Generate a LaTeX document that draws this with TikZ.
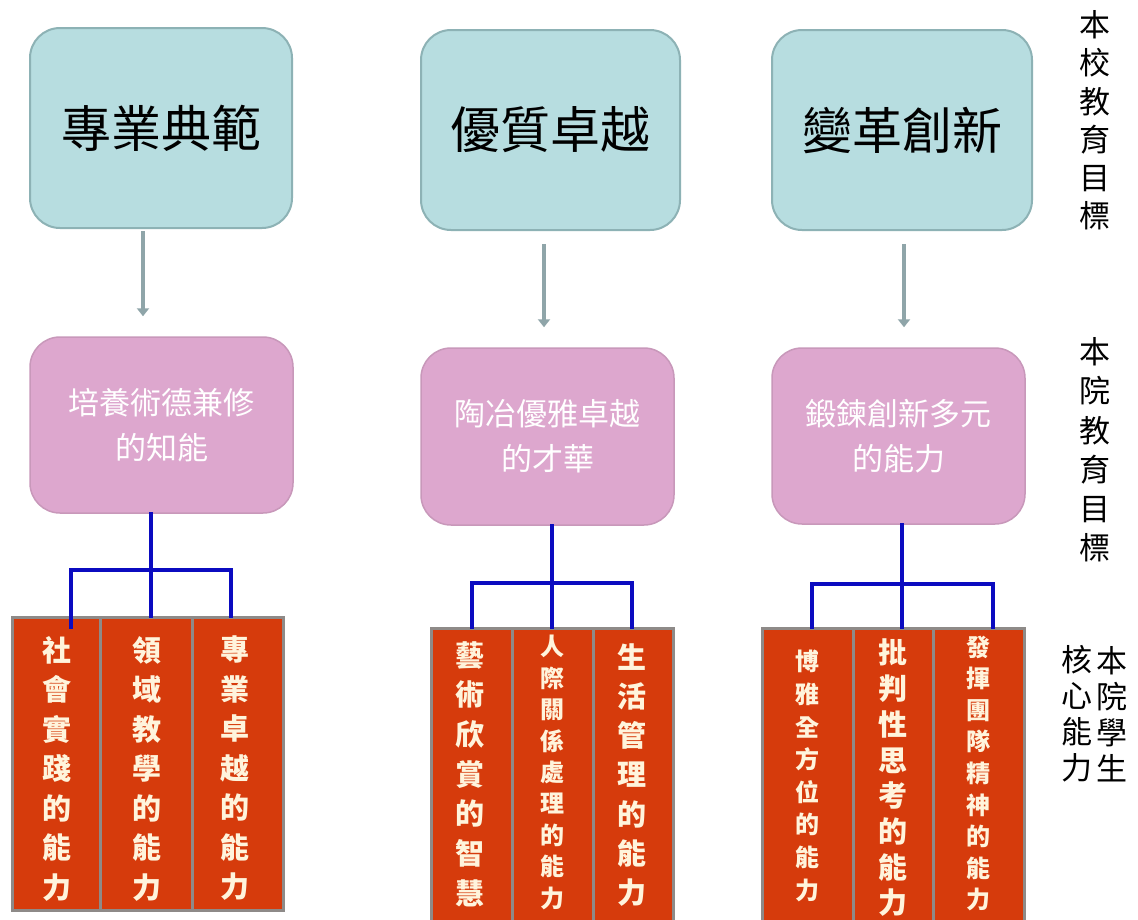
\documentclass[tikz,border=0pt]{standalone}
\usepackage{fontspec}
\newfontfamily\cjk{Noto Sans CJK TC}
\usetikzlibrary{arrows.meta,calc}
\definecolor{topfill}{HTML}{B7DDE0}
\definecolor{topline}{HTML}{8DB2B5}
\definecolor{pinkfill}{HTML}{DDA7CE}
\definecolor{pinkline}{HTML}{C898BA}
\definecolor{redfill}{HTML}{D63B0C}
\definecolor{redline}{HTML}{8E8A88}
\definecolor{cream}{HTML}{FFF4DC}
\definecolor{busblue}{HTML}{0B0BC0}
\definecolor{arrgray}{HTML}{8FA5A9}
\begin{document}
\begin{tikzpicture}[x=1pt,y=-1pt,
  topbox/.style={draw=topline, line width=2pt, fill=topfill, rounded corners=30pt, inner sep=0pt,
    font={\cjk\fontsize{50pt}{60pt}\selectfont}, text=black},
  pinkbox/.style={draw=pinkline, line width=1.5pt, fill=pinkfill, rounded corners=30pt, inner sep=0pt,
    align=center, font={\cjk\fontsize{31pt}{45pt}\selectfont}, text=white},
  redcol/.style={draw=redline, line width=3pt, fill=redfill, inner sep=0pt},
  vtext/.style={align=center, inner sep=0pt, text=cream},
  vbig/.style={vtext, font={\cjk\bfseries\fontsize{29pt}{#1}\selectfont}},
  vsmall/.style={vtext, font={\cjk\bfseries\fontsize{24pt}{#1}\selectfont}},
  sidelabel/.style={align=center, inner sep=0pt, text=black, font={\cjk\fontsize{31pt}{#1}\selectfont}},
  arr/.style={draw=arrgray, line width=4.5pt, -{Triangle[width=12pt,length=8pt]}},
  bus/.style={draw=busblue, line width=4.5pt, line join=miter, line cap=rect}
]
\useasboundingbox (0,0) rectangle (1138,919);
\clip (0,0) rectangle (1138,919);
\fill[white] (0,0) rectangle (1138,919);

% top boxes
\node[topbox, minimum width=262pt, minimum height=200pt] (t1) at (161,128) {專業典範};
\node[topbox, minimum width=259pt, minimum height=200pt] (t2) at (550.5,130) {優質卓越};
\node[topbox, minimum width=260pt, minimum height=200pt] (t3) at (902,130) {變革創新};

% pink boxes
\node[pinkbox, minimum width=263pt, minimum height=176pt] (p1) at (161.5,425) {培養術德兼修\\的知能};
\node[pinkbox, minimum width=253pt, minimum height=177pt] (p2) at (547.5,436.5) {陶冶優雅卓越\\的才華};
\node[pinkbox, minimum width=253pt, minimum height=176pt] (p3) at (898.5,436) {鍛鍊創新多元\\的能力};

% arrows
\coordinate (a1) at (143,0);
\coordinate (a2) at (544,0);
\coordinate (a3) at (904,0);
\draw[arr, shorten <=2pt, shorten >=20pt] (a1 |- t1.south) -- (a1 |- p1.north);
\draw[arr, shorten <=13pt, shorten >=20pt] (a2 |- t2.south) -- (a2 |- p2.north);
\draw[arr, shorten <=13pt, shorten >=20pt] (a3 |- t3.south) -- (a3 |- p3.north);

% red columns group 1
\node[redcol, minimum width=88pt, minimum height=293pt] (c11) at (56,763.5) {};
\node[redcol, minimum width=92pt, minimum height=293pt] (c12) at (146,763.5) {};
\node[redcol, minimum width=91pt, minimum height=293pt] (c13) at (237.5,763.5) {};
% group 2
\node[redcol, minimum width=81pt, minimum height=302pt] (c21) at (471.5,779) {};
\node[redcol, minimum width=81pt, minimum height=302pt] (c22) at (552.5,779) {};
\node[redcol, minimum width=80pt, minimum height=302pt] (c23) at (633,779) {};
% group 3
\node[redcol, minimum width=91pt, minimum height=302pt] (c31) at (807.5,779) {};
\node[redcol, minimum width=80pt, minimum height=302pt] (c32) at (893,779) {};
\node[redcol, minimum width=91pt, minimum height=302pt] (c33) at (978.5,779) {};

% column texts
\node[vbig=39.5pt] (x11) at (57,768.5) {社\\會\\實\\踐\\的\\能\\力};
\node[vbig=39.5pt] (x12) at (147,768.5) {領\\域\\教\\學\\的\\能\\力};
\node[vbig=39.5pt] (x13) at (235,768.5) {專\\業\\卓\\越\\的\\能\\力};
\node[vbig=39.7pt] (x21) at (470,774) {藝\\術\\欣\\賞\\的\\智\\慧};
\node[vsmall=31.4pt] (x22) at (552,772.5) {人\\際\\關\\係\\處\\理\\的\\能\\力};
\node[vbig=39.3pt] (x23) at (632,775) {生\\活\\管\\理\\的\\能\\力};
\node[vsmall=32.6pt] (x31) at (807,776) {博\\雅\\全\\方\\位\\的\\能\\力};
\node[vbig=35.7pt] (x32) at (893,778) {批\\判\\性\\思\\考\\的\\能\\力};
\node[vsmall=31.6pt] (x33) at (978,773.5) {發\\揮\\團\\隊\\精\\神\\的\\能\\力};

% blue buses
\coordinate (g1l) at (71,570);  \coordinate (g1r) at (231,570); \coordinate (j1) at (151,570);
\coordinate (g2l) at (472,583); \coordinate (g2r) at (632,583); \coordinate (j2) at (552,583);
\coordinate (g3l) at (812,584); \coordinate (g3r) at (993,584); \coordinate (j3) at (902,584);
\draw[bus] ($(g1l |- c11.north)+(0,11)$) -- (g1l) -- (g1r) -- (g1r |- c13.north);
\draw[bus] (j1 |- p1.south) -- (j1 |- c12.north);
\draw[bus] (g2l |- c21.north) -- (g2l) -- (g2r) -- (g2r |- c23.north);
\draw[bus] (j2 |- p2.south) -- (j2 |- c22.north);
\draw[bus] (g3l |- c31.north) -- (g3l) -- (g3r) -- (g3r |- c33.north);
\draw[bus] (j3 |- p3.south) -- (j3 |- c32.north);

% side labels
\node[sidelabel=38.2pt] (l1) at (1095,120.5) {本\\校\\教\\育\\目\\標};
\node[sidelabel=39.2pt] (l2) at (1095,450) {本\\院\\教\\育\\目\\標};
\node[sidelabel=36pt] (l3a) at (1112,714) {本\\院\\學\\生};
\node[sidelabel=36pt] (l3b) at (1077,714) {核\\心\\能\\力};
\end{tikzpicture}
\end{document}
